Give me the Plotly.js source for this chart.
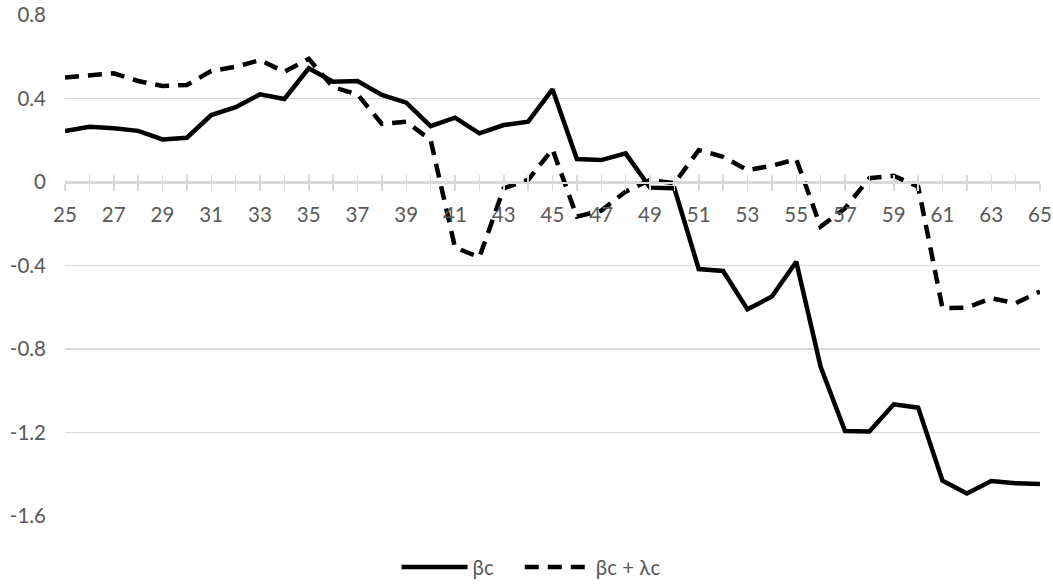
<!DOCTYPE html>
<html>
<head>
<meta charset="utf-8">
<script src="https://cdn.plot.ly/plotly-3.0.1.min.js"></script>
<style>html,body{margin:0;padding:0;background:#fff;}#chart{width:1053px;height:584px;}</style>
</head>
<body>
<div id="chart"></div>
<script>
const ages = [25,26,27,28,29,30,31,32,33,34,35,36,37,38,39,40,41,42,43,44,45,46,47,48,49,50,51,52,53,54,55,56,57,58,59,60,61,62,63,64,65];
const betaC = [0.244,0.265,0.257,0.245,0.204,0.212,0.321,0.358,0.420,0.398,0.545,0.480,0.484,0.417,0.380,0.268,0.308,0.233,0.273,0.289,0.444,0.110,0.105,0.137,-0.027,-0.030,-0.417,-0.426,-0.610,-0.549,-0.382,-0.885,-1.193,-1.195,-1.065,-1.081,-1.431,-1.492,-1.432,-1.443,-1.447];
const betaLambdaC = [0.501,0.513,0.521,0.484,0.460,0.465,0.532,0.552,0.584,0.528,0.590,0.454,0.420,0.278,0.289,0.201,-0.313,-0.361,-0.030,0.010,0.157,-0.166,-0.137,-0.046,0.010,-0.006,0.153,0.121,0.057,0.078,0.109,-0.214,-0.126,0.018,0.030,-0.022,-0.605,-0.602,-0.557,-0.581,-0.525];
const xTickVals = [25,27,29,31,33,35,37,39,41,43,45,47,49,51,53,55,57,59,61,63,65];
const yTickVals = [-1.6,-1.2,-0.8,-0.4,0,0.4,0.8];
const yTickText = ['-1.6','-1.2','-0.8','-0.4','0','0.4','0.8'];
const seriesNames = ['βc\u00a0\u00a0\u00a0\u00a0', 'βc + λc'];

const font = {family: 'Lato, "Open Sans", sans-serif', size: 20.5, color: '#595959'};
const yMin = -1.6, yMax = 0.8;
const zeroPos = (0 - yMin) / (yMax - yMin);

const traces = [
  {x: ages, y: betaC, name: seriesNames[0], type: 'scatter', mode: 'lines',
   line: {color: '#000', width: 4.5}},
  {x: ages, y: betaLambdaC, name: seriesNames[1], type: 'scatter', mode: 'lines',
   line: {color: '#000', width: 4.5, dash: '14px,9px'}},
  {x: ages, y: betaC, xaxis: 'x2', showlegend: false, hoverinfo: 'skip', type: 'scatter', mode: 'lines',
   line: {color: 'rgba(0,0,0,0)', width: 0}}
];

const layout = {
  width: 1053, height: 584,
  margin: {l: 65, r: 13, t: 15, b: 68, autoexpand: false},
  paper_bgcolor: '#fff', plot_bgcolor: '#fff',
  font: font,
  showlegend: true,
  legend: {orientation: 'h', x: 0.478, xanchor: 'center', y: -0.102, yanchor: 'middle',
           font: font, itemwidth: 66, traceorder: 'normal'},
  xaxis: {range: [25, 65], anchor: 'free', position: zeroPos,
          showgrid: false, zeroline: false, showline: true, linecolor: '#d9d9d9', linewidth: 1.5,
          tickmode: 'array', tickvals: xTickVals, ticktext: xTickVals.map(String),
          ticks: 'outside', ticklen: 7, tickcolor: '#d9d9d9', tickwidth: 1.5,
          minor: {dtick: 1, ticks: 'outside', ticklen: 7, tickcolor: '#d9d9d9', tickwidth: 1.5},
          tickfont: font, ticklabelstandoff: 7},
  xaxis2: {range: [25, 65], overlaying: 'x', anchor: 'free', position: zeroPos,
           showgrid: false, zeroline: false, showline: false, showticklabels: false,
           tickmode: 'linear', tick0: 25, dtick: 1,
           ticks: 'inside', ticklen: 7, tickcolor: '#d9d9d9', tickwidth: 1.5},
  yaxis: {range: [yMin, yMax], tickmode: 'array', tickvals: yTickVals, ticktext: yTickText,
          showgrid: true, gridcolor: '#d9d9d9', gridwidth: 1.3, zeroline: false,
          showline: false, ticks: '', tickfont: font, ticklabelstandoff: 18}
};

Plotly.newPlot('chart', traces, layout, {displayModeBar: false, staticPlot: true});
</script>
</body>
</html>
